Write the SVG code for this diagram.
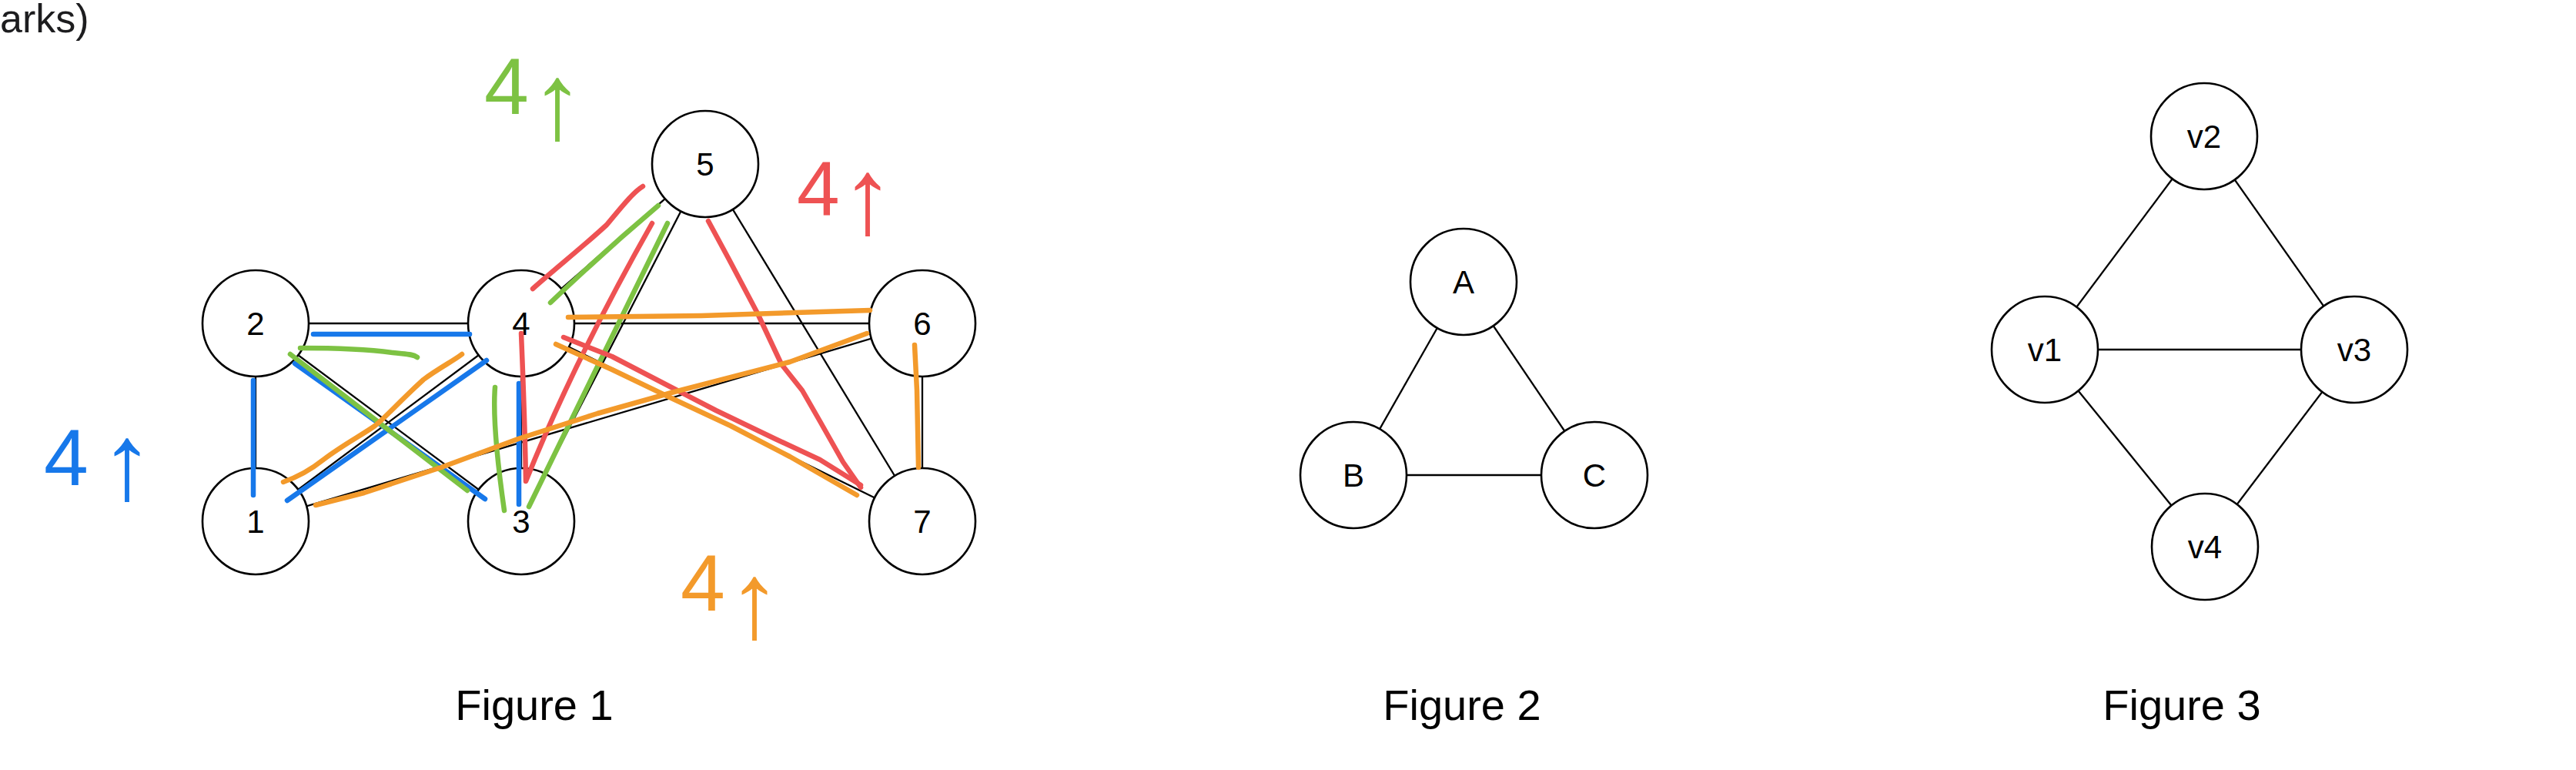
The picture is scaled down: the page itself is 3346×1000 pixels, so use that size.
<svg xmlns="http://www.w3.org/2000/svg" width="3346" height="1000" viewBox="0 0 3346 1000">
<style>
.edge{stroke:#000;stroke-width:2.3;fill:none}
.node circle{fill:#fff;stroke:#000;stroke-width:2.6}
.node text{font-family:"Liberation Sans",Arial,sans-serif;font-size:42px;text-anchor:middle;fill:#000}
.cap{font-family:"Liberation Sans",Arial,sans-serif;font-size:56px;text-anchor:middle;fill:#000}
.hl{fill:none;stroke-width:6.5;stroke-linecap:round;stroke-linejoin:round}
.blue{stroke:#1778EA}.green{stroke:#7DC243}.red{stroke:#EE5253}.orange{stroke:#F39A2B}
.hw{font-family:"Liberation Sans",Arial,sans-serif}
.arr{font-size:140px;text-anchor:middle}
</style>
<rect width="3346" height="1000" fill="#fff"/>
<text x="0" y="42" font-family="Liberation Sans, Arial, sans-serif" font-size="52" fill="#1d1d1f">arks)</text>

<!-- Figure 1 connectors -->
<g id="fig1-edges">
<line class="edge" x1="332" y1="677" x2="332" y2="420"/>
<line class="edge" x1="332" y1="677" x2="677" y2="420"/>
<line class="edge" x1="332" y1="677" x2="1198" y2="420"/>
<line class="edge" x1="332" y1="420" x2="677" y2="677"/>
<line class="edge" x1="332" y1="420" x2="677" y2="420"/>
<line class="edge" x1="677" y1="677" x2="677" y2="420"/>
<line class="edge" x1="677" y1="677" x2="916" y2="213"/>
<line class="edge" x1="677" y1="420" x2="916" y2="213"/>
<line class="edge" x1="677" y1="420" x2="1198" y2="420"/>
<line class="edge" x1="677" y1="420" x2="1198" y2="677"/>
<line class="edge" x1="916" y1="213" x2="1198" y2="677"/>
<line class="edge" x1="1198" y1="420" x2="1198" y2="677"/>
</g>
<g id="n1" class="node"><circle cx="332" cy="677" r="69"/><text x="332" y="692">1</text></g>
<g id="n2" class="node"><circle cx="332" cy="420" r="69"/><text x="332" y="435">2</text></g>
<g id="n3" class="node"><circle cx="677" cy="677" r="69"/><text x="677" y="692">3</text></g>
<g id="n4" class="node"><circle cx="677" cy="420" r="69"/><text x="677" y="435">4</text></g>
<g id="n5" class="node"><circle cx="916" cy="213" r="69"/><text x="916" y="228">5</text></g>
<g id="n6" class="node"><circle cx="1198" cy="420" r="69"/><text x="1198" y="435">6</text></g>
<g id="n7" class="node"><circle cx="1198" cy="677" r="69"/><text x="1198" y="692">7</text></g>

<!-- hand-drawn highlights -->
<g id="highlights">
<path class="hl blue" d="M407,434 L610,434"/>
<path class="hl blue" d="M329,494 L329,643"/>
<path class="hl blue" d="M383,472 L630,648"/>
<path class="hl blue" d="M373,650 L632,468"/>
<path class="hl blue" d="M674,498 L674,655"/>

<path class="hl green" d="M390,452 C430,452 480,454 510,458 C525,460 535,459 542,464"/>
<path class="hl green" d="M377,460 L607,637"/>
<path class="hl green" d="M643,503 C640,540 646,600 655,663"/>
<path class="hl green" d="M687,658 L867,290"/>
<path class="hl green" d="M715,393 C760,350 810,305 855,267"/>

<path class="hl red" d="M692,375 C720,350 760,318 788,292 C808,268 822,250 835,242"/>
<path class="hl red" d="M677,433 C679,480 682,560 683,625 Q745,470 847,290"/>
<path class="hl red" d="M920,287 L947,337 L984,407 L1015,473 L1042,507 L1065,547 L1095,600 L1118,633"/>
<path class="hl red" d="M732,438 L795,463 L872,503 L930,533 L1007,570 L1065,597 L1118,630"/>

<path class="hl orange" d="M368,626 C385,620 400,613 420,597 C445,578 470,565 487,553 C500,543 515,525 550,493 C570,478 590,468 600,460"/>
<path class="hl orange" d="M410,656 L473,640 L573,607 L673,570 L776,537 L872,510 L1026,470 L1126,433"/>
<path class="hl orange" d="M738,412 L911,410 L1065,405 L1130,403"/>
<path class="hl orange" d="M722,447 L795,480 L872,517 L949,553 L1026,593 L1113,643"/>
<path class="hl orange" d="M1188,448 L1191,507 L1193,607"/>
</g>

<g id="annotations" class="hw">
<text fill="#1778EA"><tspan x="57" y="630" font-size="104">4</tspan><tspan class="arr" x="165" y="648">↑</tspan></text>
<text fill="#7DC243"><tspan x="629" y="148" font-size="104">4</tspan><tspan class="arr" x="724" y="180">↑</tspan></text>
<text fill="#EE5253"><tspan x="1035" y="280" font-size="100">4</tspan><tspan class="arr" x="1127" y="303">↑</tspan></text>
<text fill="#F39A2B"><tspan x="884" y="793" font-size="104">4</tspan><tspan class="arr" x="980" y="828">↑</tspan></text>
</g>

<!-- Figure 2 -->
<g id="fig2-edges">
<line class="edge" x1="1901" y1="366" x2="1758" y2="617"/>
<line class="edge" x1="1901" y1="366" x2="2071" y2="617"/>
<line class="edge" x1="1758" y1="617" x2="2071" y2="617"/>
</g>
<g id="nA" class="node"><circle cx="1901" cy="366" r="69"/><text x="1901" y="381">A</text></g>
<g id="nB" class="node"><circle cx="1758" cy="617" r="69"/><text x="1758" y="632">B</text></g>
<g id="nC" class="node"><circle cx="2071" cy="617" r="69"/><text x="2071" y="632">C</text></g>

<!-- Figure 3 -->
<g id="fig3-edges">
<line class="edge" x1="2863" y1="177" x2="2656" y2="454"/>
<line class="edge" x1="2863" y1="177" x2="3058" y2="454"/>
<line class="edge" x1="2656" y1="454" x2="3058" y2="454"/>
<line class="edge" x1="2656" y1="454" x2="2864" y2="710"/>
<line class="edge" x1="3058" y1="454" x2="2864" y2="710"/>
</g>
<g id="nv2" class="node"><circle cx="2863" cy="177" r="69"/><text x="2863" y="192">v2</text></g>
<g id="nv1" class="node"><circle cx="2656" cy="454" r="69"/><text x="2656" y="469">v1</text></g>
<g id="nv3" class="node"><circle cx="3058" cy="454" r="69"/><text x="3058" y="469">v3</text></g>
<g id="nv4" class="node"><circle cx="2864" cy="710" r="69"/><text x="2864" y="725">v4</text></g>

<g id="captions">
<text class="cap" x="694" y="935">Figure 1</text>
<text class="cap" x="1899" y="935">Figure 2</text>
<text class="cap" x="2834" y="935">Figure 3</text>
</g>
</svg>
